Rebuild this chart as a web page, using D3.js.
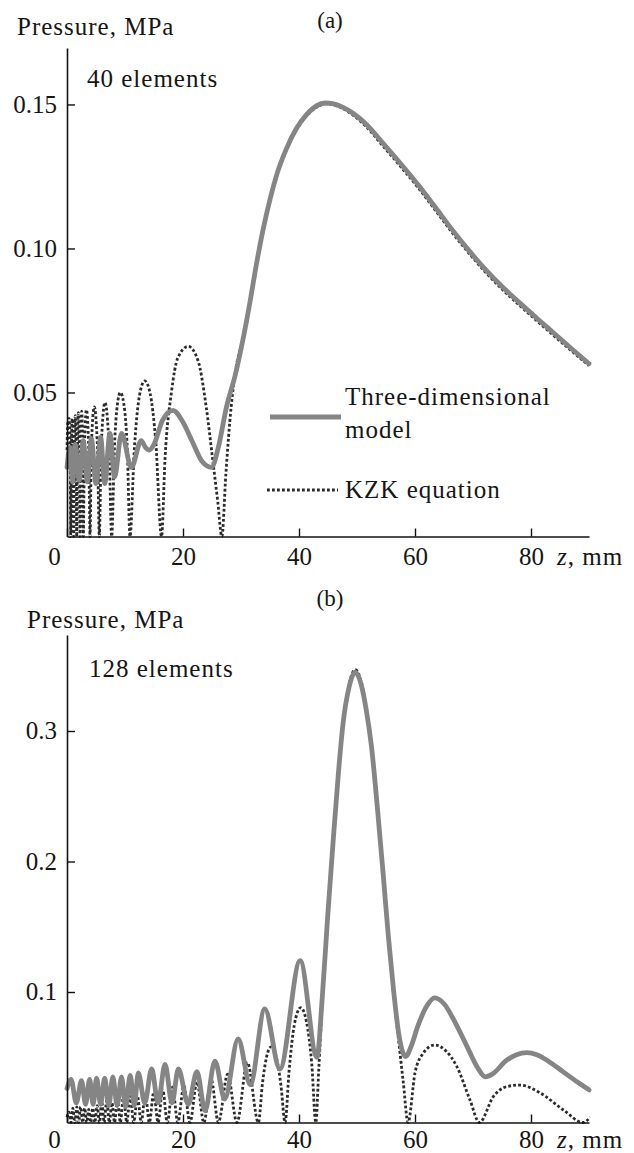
<!DOCTYPE html>
<html><head><meta charset="utf-8">
<script src="https://cdn.jsdelivr.net/npm/d3@7"></script>
<style>
html,body{margin:0;padding:0;background:#fff;}
svg text{font-family:"Liberation Serif","Times New Roman",serif;fill:#151515;}
</style></head><body>
<svg id="chart" width="634" height="1153"></svg>
<script>
// ---------- tick labels / categories ----------
const xTicks = [0, 20, 40, 60, 80];
const yTicksA = [0.05, 0.10, 0.15];
const yTicksB = [0.1, 0.2, 0.3];
const seriesNames = ["Three-dimensional", "model", "KZK equation"];
const panelTitles = ["(a)", "(b)"];
const panelNotes = ["40 elements", "128 elements"];

// ---------- panel (a): 40 elements ----------
const zA3D = [0.0,0.5,0.95,1.4,2.1,2.8,3.5,4.2,5.0,5.8,6.5,7.4,8.2,9.4,11.1,12.8,13.5,14.2,15.0,16.5,18.3,19.9,21.6,23.3,24.9,26.1,27.5,29.0,30.4,31.6,32.7,33.8,35.0,36.3,37.8,39.5,41.3,43.0,44.5,46.0,47.6,49.5,51.5,54.5,57.5,60.5,63.5,66.3,69.2,72.0,75.0,78.0,81.0,84.0,87.0,90.0];
const pA3D = [0.024,0.031,0.019,0.032,0.0195,0.0333,0.019,0.034,0.0184,0.0345,0.0184,0.0358,0.0206,0.0358,0.024,0.0333,0.031,0.030,0.032,0.0405,0.0438,0.040,0.033,0.026,0.024,0.031,0.045,0.056,0.069,0.082,0.095,0.1065,0.117,0.1265,0.1345,0.1415,0.1465,0.1495,0.1505,0.1502,0.149,0.1467,0.1433,0.1365,0.1295,0.1222,0.1143,0.1068,0.0995,0.093,0.0868,0.0812,0.0758,0.0705,0.0652,0.060];

const zAKZK = [0.0,0.15,0.35,0.55,0.64,0.75,0.9,1.05,1.15,1.27,1.42,1.57,1.67,1.8,1.96,2.12,2.25,2.38,2.53,2.7,2.81,3.0,3.35,3.75,3.97,4.2,4.7,5.25,5.57,5.9,6.55,7.25,7.7,8.2,8.7,9.2,9.8,10.4,10.86,11.6,12.5,13.4,14.3,15.3,16.3,16.9,18.0,19.1,20.9,22.6,24.0,25.1,26.0,26.7,27.4,28.3,29.1,30.4,31.6,32.7,33.8,35.0,36.3,37.8,39.5,41.3,43.0,44.5,46.0,47.6,49.5,51.5,54.5,57.5,60.5,63.5,66.3,69.2,72.0,75.0,78.0,81.0,84.0,87.0,90.0];
const pAKZK = [0.030,0.040,0.041,0.030,0.0,0.028,0.041,0.030,0.0,0.028,0.042,0.030,0.0,0.029,0.043,0.030,0.0,0.030,0.0435,0.030,0.0,0.030,0.044,0.030,0.0,0.031,0.045,0.031,0.0,0.031,0.0465,0.031,0.0,0.032,0.046,0.050,0.046,0.030,0.0,0.030,0.049,0.054,0.050,0.033,0.0,0.027,0.050,0.062,0.066,0.061,0.045,0.027,0.012,0.0,0.022,0.045,0.058,0.069,0.0815,0.0945,0.106,0.1165,0.126,0.134,0.141,0.146,0.149,0.1502,0.1498,0.1485,0.146,0.1425,0.1355,0.1285,0.1212,0.1133,0.1058,0.0986,0.0921,0.0859,0.0803,0.0749,0.0696,0.0644,0.0593];

// ---------- panel (b): 128 elements ----------
const zB3D = [0.0,0.7,1.6,2.5,3.2,3.9,4.5,5.1,5.8,6.5,7.2,7.9,8.65,9.4,10.1,10.9,11.6,12.3,13.4,14.6,15.7,16.9,18.1,19.2,20.9,22.4,23.8,25.5,27.2,29.5,31.6,34.1,36.7,40.2,43.1,44.0,44.9,45.9,46.8,47.6,48.6,49.7,50.7,51.6,52.5,53.5,54.5,55.4,56.3,57.2,58.4,59.3,60.5,62.0,63.4,65.0,67.0,69.0,70.8,72.1,73.6,75.6,77.5,79.3,81.0,83.0,85.5,88.0,90.0];
const pB3D = [0.026,0.033,0.015,0.032,0.014,0.033,0.014,0.034,0.014,0.034,0.013,0.035,0.013,0.035,0.012,0.036,0.013,0.038,0.015,0.041,0.015,0.0446,0.015,0.041,0.014,0.039,0.009,0.047,0.018,0.064,0.029,0.087,0.041,0.124,0.050,0.095,0.155,0.2165,0.268,0.306,0.333,0.345,0.336,0.316,0.288,0.242,0.191,0.143,0.1015,0.068,0.0505,0.058,0.074,0.089,0.0955,0.091,0.076,0.058,0.042,0.035,0.038,0.047,0.052,0.0535,0.052,0.047,0.039,0.031,0.025];

const zBKZK = [0.0,0.35,0.7,1.0,1.35,1.7,2.0,2.35,2.7,3.05,3.4,3.75,4.1,4.45,4.8,5.2,5.6,6.0,6.4,6.85,7.3,7.75,8.2,8.7,9.2,9.75,10.3,10.9,11.5,12.15,12.8,13.5,14.2,14.95,15.7,16.5,17.3,18.2,19.1,20.15,21.2,22.4,23.6,24.85,26.1,27.7,29.3,31.1,33.0,33.7,34.4,35.2,36.1,36.9,37.6,38.3,39.2,40.3,41.3,42.2,42.9,43.4,44.0,44.9,45.9,46.8,47.6,48.6,49.7,50.7,51.6,52.5,53.5,54.5,55.4,56.3,57.2,58.0,58.8,60.0,61.4,63.4,65.3,67.2,69.5,71.1,73.5,75.8,78.1,81.6,85.6,89.0,90.2];
const pBKZK = [0.004,0.008,0.0,0.011,0.0,0.012,0.0,0.012,0.0,0.011,0.0,0.010,0.0,0.011,0.0,0.013,0.0,0.016,0.0,0.017,0.0,0.015,0.0,0.019,0.0,0.021,0.0,0.020,0.0,0.020,0.0,0.022,0.0,0.023,0.0,0.025,0.0,0.027,0.0,0.028,0.0,0.031,0.0,0.033,0.0,0.037,0.0,0.046,0.0,0.030,0.050,0.058,0.050,0.028,0.0,0.040,0.075,0.088,0.077,0.045,0.0,0.040,0.092,0.153,0.215,0.268,0.307,0.335,0.347,0.338,0.317,0.288,0.242,0.190,0.141,0.099,0.062,0.030,0.0,0.038,0.053,0.0594,0.055,0.043,0.017,0.0,0.0198,0.0275,0.0287,0.0226,0.0096,0.0,0.004];

// ---------- drawing ----------
const svg = d3.select("#chart");
const FS = 25;
const LS = 1;
const GRAY = "#858585", DARK = "#2b2b2b";

function zip(z, p) { return z.map((v, i) => [v, p[i]]); }

function label(g, x, y, t, opts = {}) {
  return g.append("text").attr("x", x).attr("y", y).attr("font-size", opts.fs || FS)
    .attr("letter-spacing", opts.ls === undefined ? LS : opts.ls)
    .attr("text-anchor", opts.anchor || "start").text(t);
}

function drawPanel(o) {
  const g = svg.append("g");
  const x = d3.scaleLinear().domain([0, 90]).range([67, 589]);
  const y = d3.scaleLinear().domain([0, o.yMax]).range([o.y0, o.yTop]);
  const line = d3.line().x(d => x(d[0])).y(d => y(d[1])).curve(d3.curveMonotoneX);

  // series
  g.append("path").datum(zip(o.zK, o.pK)).attr("d", line)
    .attr("fill", "none").attr("stroke", DARK).attr("stroke-width", 2.8)
    .attr("stroke-dasharray", "2.8,2.2");
  g.append("path").datum(zip(o.z3, o.p3)).attr("d", line)
    .attr("fill", "none").attr("stroke", GRAY).attr("stroke-width", 4.8)
    .attr("stroke-linejoin", "round").attr("stroke-linecap", "round");

  // axes
  const ax = g.append("g").attr("transform", `translate(0,${o.y0})`)
    .call(d3.axisBottom(x).tickValues(xTicks).tickFormat(d3.format("d"))
      .tickSizeInner(-8).tickSizeOuter(0).tickPadding(o.xPad));
  const ay = g.append("g").attr("transform", `translate(67,0)`)
    .call(d3.axisLeft(y).tickValues(o.yTicks).tickFormat(o.fmt)
      .tickSizeInner(-8).tickSizeOuter(0).tickPadding(10));
  [ax, ay].forEach(a => {
    a.attr("font-family", null).attr("font-size", null);
    a.select(".domain").attr("stroke", "#111").attr("stroke-width", 1.6);
    a.selectAll(".tick line").attr("stroke", "#111").attr("stroke-width", 1.4);
    a.selectAll(".tick text").attr("font-size", FS).attr("fill", "#151515");
  });
  ax.selectAll(".tick text").filter(d => d === 0).attr("x", -13);

  // axis titles
  const xl = g.append("text").attr("x", 557).attr("y", o.y0 + o.xLab).attr("font-size", FS)
    .attr("letter-spacing", LS);
  xl.append("tspan").attr("font-style", "italic").text("z");
  xl.append("tspan").text(", mm");
  label(g, o.ytX, o.ytY, "Pressure, MPa");
  label(g, o.noteX, o.noteY, o.note);
  label(g, 330, o.titleY, o.title, { anchor: "middle", fs: 23, ls: 0 });
  return { g, x, y };
}

const A = drawPanel({
  y0: 536.5, yTop: 48, yMax: 0.1696, yTicks: yTicksA, fmt: d3.format(".2f"),
  z3: zA3D, p3: pA3D, zK: zAKZK, pK: pAKZK, xPad: 11, xLab: 28,
  ytX: 17, ytY: 35, noteX: 87, noteY: 87, note: panelNotes[0], title: panelTitles[0], titleY: 28
});
const B = drawPanel({
  y0: 1122.5, yTop: 635, yMax: 0.37356, yTicks: yTicksB, fmt: d3.format(".1f"),
  z3: zB3D, p3: pB3D, zK: zBKZK, pK: pBKZK, xPad: 8, xLab: 25,
  ytX: 27, ytY: 628, noteX: 89, noteY: 677, note: panelNotes[1], title: panelTitles[1], titleY: 606
});

// legend (panel a)
const lg = A.g.append("g");
lg.append("line").attr("x1", 270).attr("x2", 341).attr("y1", 417).attr("y2", 417)
  .attr("stroke", GRAY).attr("stroke-width", 4.8);
label(lg, 345, 405, seriesNames[0]);
label(lg, 345, 438, seriesNames[1]);
lg.append("line").attr("x1", 267).attr("x2", 338).attr("y1", 490).attr("y2", 490)
  .attr("stroke", DARK).attr("stroke-width", 2.8).attr("stroke-dasharray", "2.8,2.2");
label(lg, 345, 498, seriesNames[2]);
</script>
</body></html>
